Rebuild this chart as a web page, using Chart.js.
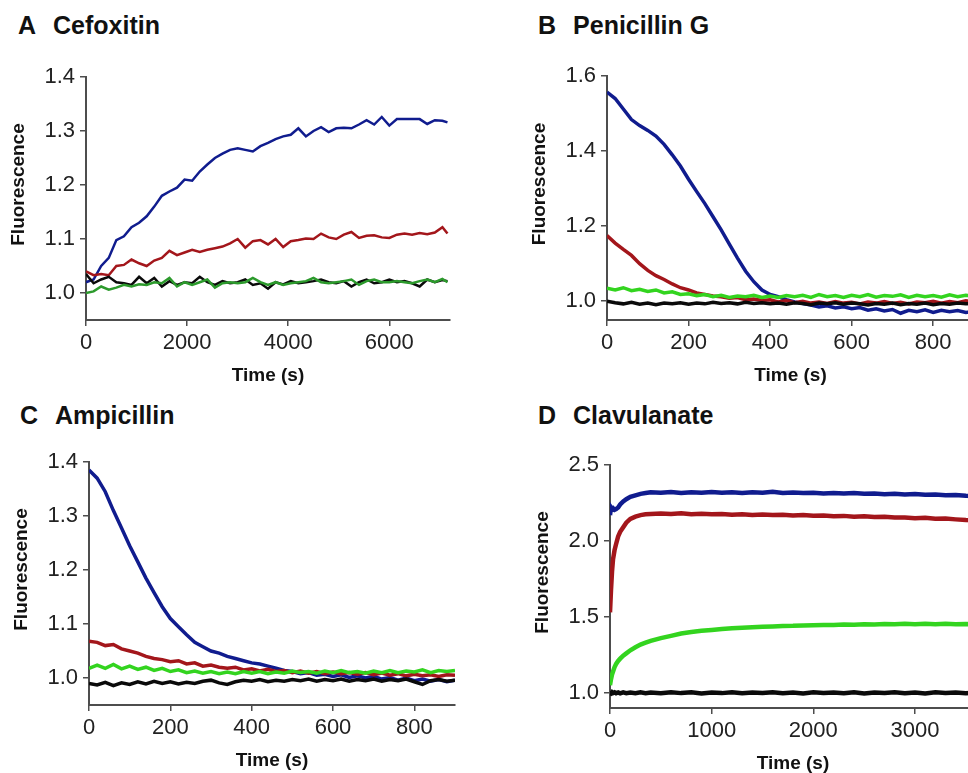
<!DOCTYPE html>
<html>
<head>
<meta charset="utf-8">
<script src="https://cdn.jsdelivr.net/npm/chart.js@4.4.1/dist/chart.umd.min.js"></script>
<style>
  html, body { margin: 0; padding: 0; background: #fff; }
  body { position: relative; width: 968px; height: 773px; overflow: hidden; font-family: "Liberation Sans", Arial, sans-serif; }
  .panel-title { position: absolute; font-weight: bold; font-size: 25px; line-height: 30px; color: #111; white-space: nowrap; }
  .panel-title span { margin-left: 17px; }
  canvas { position: absolute; }
</style>
</head>
<body>
<div class="panel-title" style="left:18px;top:10px">A<span>Cefoxitin</span></div>
<div class="panel-title" style="left:538px;top:10px">B<span>Penicillin G</span></div>
<div class="panel-title" style="left:20px;top:400px">C<span>Ampicillin</span></div>
<div class="panel-title" style="left:538px;top:400px">D<span>Clavulanate</span></div>
<canvas id="chartA"></canvas>
<canvas id="chartB"></canvas>
<canvas id="chartC"></canvas>
<canvas id="chartD"></canvas>
<script>
// ---- A: Cefoxitin ----
const timeA = [0, 150, 300, 450, 600, 750, 900, 1050, 1200, 1350, 1500, 1650, 1800, 1950, 2100, 2250,
  2400, 2550, 2700, 2850, 3000, 3150, 3300, 3450, 3600, 3750, 3900, 4050, 4200, 4350, 4500, 4650,
  4800, 4950, 5100, 5250, 5400, 5550, 5700, 5850, 6000, 6150, 6300, 6450, 6600, 6750, 6900, 7050, 7150];
const blueA = [1.020, 1.025, 1.050, 1.065, 1.098, 1.105, 1.122, 1.130, 1.142, 1.160, 1.180, 1.188, 1.195, 1.210, 1.208, 1.225,
  1.238, 1.250, 1.258, 1.265, 1.268, 1.265, 1.262, 1.272, 1.278, 1.285, 1.290, 1.293, 1.305, 1.290, 1.300, 1.307,
  1.298, 1.305, 1.306, 1.305, 1.312, 1.320, 1.312, 1.326, 1.310, 1.322, 1.322, 1.322, 1.322, 1.313, 1.320, 1.319, 1.316];
const redA = [1.040, 1.033, 1.035, 1.033, 1.050, 1.052, 1.062, 1.055, 1.050, 1.060, 1.065, 1.078, 1.070, 1.075, 1.080, 1.076,
  1.080, 1.083, 1.086, 1.092, 1.100, 1.084, 1.096, 1.098, 1.090, 1.100, 1.085, 1.096, 1.098, 1.101, 1.100, 1.110,
  1.103, 1.100, 1.108, 1.113, 1.102, 1.106, 1.107, 1.103, 1.102, 1.108, 1.110, 1.108, 1.111, 1.109, 1.112, 1.122, 1.110];
const blackA = [1.035, 1.018, 1.025, 1.030, 1.020, 1.018, 1.015, 1.030, 1.018, 1.028, 1.012, 1.022, 1.015, 1.020, 1.018, 1.030,
  1.020, 1.015, 1.022, 1.018, 1.020, 1.025, 1.015, 1.018, 1.008, 1.020, 1.016, 1.022, 1.018, 1.020, 1.022, 1.025,
  1.020, 1.018, 1.022, 1.012, 1.020, 1.025, 1.018, 1.020, 1.025, 1.020, 1.022, 1.018, 1.012, 1.025, 1.020, 1.024, 1.022];
const greenA = [1.000, 1.003, 1.012, 1.006, 1.010, 1.015, 1.012, 1.016, 1.015, 1.020, 1.018, 1.028, 1.012, 1.020, 1.015, 1.020,
  1.025, 1.010, 1.018, 1.020, 1.018, 1.020, 1.028, 1.020, 1.015, 1.020, 1.015, 1.018, 1.020, 1.022, 1.028, 1.020,
  1.018, 1.020, 1.022, 1.025, 1.015, 1.022, 1.025, 1.020, 1.020, 1.022, 1.020, 1.018, 1.022, 1.025, 1.020, 1.026, 1.020];
const xTicksA = [0, 2000, 4000, 6000];
const yTicksA = [1.0, 1.1, 1.2, 1.3, 1.4];

// ---- B: Penicillin G ----
const timeB = [0, 20, 40, 60, 80, 100, 120, 140, 160, 180, 200, 220, 240, 260, 280, 300, 320, 340, 360, 380, 400, 420, 440,
  460, 480, 500, 520, 540, 560, 580, 600, 620, 640, 660, 680, 700, 720, 740, 760, 780, 800, 820, 840, 860, 880, 900];
const blueB = [1.557, 1.540, 1.512, 1.484, 1.468, 1.455, 1.440, 1.418, 1.390, 1.360, 1.325, 1.292, 1.260, 1.225, 1.190, 1.152,
  1.115, 1.080, 1.052, 1.030, 1.018, 1.012, 1.004, 0.998, 0.994, 0.990, 0.985, 0.988, 0.982, 0.985, 0.980, 0.983,
  0.976, 0.980, 0.974, 0.978, 0.968, 0.976, 0.972, 0.977, 0.970, 0.976, 0.972, 0.975, 0.970, 0.973];
const redB = [1.175, 1.155, 1.138, 1.122, 1.100, 1.082, 1.068, 1.058, 1.046, 1.036, 1.030, 1.022, 1.018, 1.014, 1.012, 1.008,
  1.010, 1.004, 1.006, 1.002, 1.004, 0.998, 1.002, 0.996, 1.000, 0.995, 0.998, 0.994, 0.999, 0.995, 0.997, 0.993,
  0.998, 0.995, 0.999, 0.994, 0.997, 0.993, 0.998, 0.996, 1.000, 0.995, 0.999, 0.996, 1.001, 0.998];
const greenB = [1.035, 1.030, 1.036, 1.028, 1.032, 1.026, 1.030, 1.022, 1.025, 1.018, 1.020, 1.015, 1.018, 1.012, 1.016, 1.010,
  1.014, 1.012, 1.016, 1.010, 1.014, 1.010, 1.015, 1.012, 1.016, 1.010, 1.018, 1.012, 1.015, 1.010, 1.016, 1.012,
  1.018, 1.011, 1.015, 1.013, 1.017, 1.010, 1.016, 1.012, 1.015, 1.011, 1.017, 1.012, 1.016, 1.013];
const blackB = [1.000, 0.996, 0.993, 0.997, 0.992, 0.995, 0.991, 0.995, 0.993, 0.996, 0.992, 0.995, 0.993, 0.997, 0.994, 0.996,
  0.993, 0.997, 0.994, 0.996, 0.993, 0.995, 0.992, 0.996, 0.994, 0.991, 0.995, 0.993, 0.996, 0.992, 0.995, 0.993,
  0.990, 0.994, 0.992, 0.995, 0.991, 0.994, 0.992, 0.995, 0.991, 0.994, 0.992, 0.995, 0.993, 0.994];
const xTicksB = [0, 200, 400, 600, 800];
const yTicksB = [1.0, 1.2, 1.4, 1.6];

// ---- C: Ampicillin ----
const timeC = [0, 20, 40, 60, 80, 100, 120, 140, 160, 180, 200, 220, 240, 260, 280, 300, 320, 340, 360, 380, 400, 420, 440,
  460, 480, 500, 520, 540, 560, 580, 600, 620, 640, 660, 680, 700, 720, 740, 760, 780, 800, 820, 840, 860, 880, 900];
const blueC = [1.385, 1.370, 1.345, 1.310, 1.278, 1.245, 1.215, 1.185, 1.158, 1.132, 1.110, 1.095, 1.080, 1.066, 1.058, 1.050,
  1.046, 1.040, 1.036, 1.032, 1.028, 1.026, 1.022, 1.018, 1.014, 1.012, 1.008, 1.010, 1.005, 1.007, 1.003, 1.006,
  1.001, 1.004, 1.000, 1.003, 0.998, 1.001, 0.996, 1.000, 0.995, 0.998, 0.994, 0.997, 0.993, 0.996];
const redC = [1.068, 1.066, 1.060, 1.062, 1.054, 1.050, 1.046, 1.040, 1.036, 1.034, 1.030, 1.032, 1.026, 1.028, 1.022, 1.024,
  1.020, 1.018, 1.020, 1.015, 1.017, 1.013, 1.016, 1.012, 1.014, 1.010, 1.013, 1.009, 1.012, 1.008, 1.011, 1.008,
  1.010, 1.007, 1.010, 1.006, 1.009, 1.005, 1.008, 1.004, 1.007, 1.004, 1.006, 1.003, 1.006, 1.005];
const greenC = [1.018, 1.024, 1.018, 1.025, 1.017, 1.022, 1.016, 1.020, 1.014, 1.018, 1.012, 1.015, 1.010, 1.013, 1.009, 1.012,
  1.008, 1.011, 1.008, 1.012, 1.009, 1.012, 1.008, 1.011, 1.009, 1.013, 1.010, 1.012, 1.009, 1.013, 1.010, 1.014,
  1.010, 1.012, 1.009, 1.013, 1.010, 1.014, 1.010, 1.013, 1.011, 1.015, 1.010, 1.014, 1.012, 1.014];
const blackC = [0.990, 0.987, 0.992, 0.986, 0.991, 0.988, 0.993, 0.989, 0.994, 0.990, 0.993, 0.989, 0.992, 0.990, 0.994, 0.996,
  0.991, 0.988, 0.993, 0.996, 0.994, 0.997, 0.993, 0.996, 0.994, 0.997, 0.995, 0.998, 0.994, 0.997, 0.995, 0.998,
  0.994, 0.997, 0.995, 0.998, 0.994, 0.997, 0.995, 0.998, 0.993, 0.988, 0.995, 0.997, 0.994, 0.996];
const xTicksC = [0, 200, 400, 600, 800];
const yTicksC = [1.0, 1.1, 1.2, 1.3, 1.4];

// ---- D: Clavulanate ----
const timeD = [0, 10, 20, 30, 45, 60, 80, 100, 130, 160, 200, 250, 300, 350, 400,
  500, 600, 700, 800, 900, 1000, 1100, 1200, 1300, 1400, 1500, 1600, 1700, 1800, 1900, 2000,
  2100, 2200, 2300, 2400, 2500, 2600, 2700, 2800, 2900, 3000, 3100, 3200, 3300, 3400, 3500, 3600];
const blueD = [2.170, 2.220, 2.210, 2.215, 2.205, 2.210, 2.220, 2.240, 2.260, 2.275, 2.290, 2.300, 2.310, 2.315, 2.320,
  2.318, 2.322, 2.316, 2.320, 2.318, 2.322, 2.317, 2.320, 2.316, 2.321, 2.318, 2.324, 2.316, 2.319, 2.315, 2.318,
  2.313, 2.316, 2.312, 2.315, 2.310, 2.313, 2.308, 2.311, 2.306, 2.309, 2.304, 2.306, 2.301, 2.303, 2.298, 2.296];
const redD = [1.530, 1.680, 1.800, 1.880, 1.940, 1.980, 2.030, 2.060, 2.090, 2.120, 2.145, 2.160, 2.170, 2.175, 2.178,
  2.180, 2.178, 2.182, 2.176, 2.179, 2.175, 2.178, 2.173, 2.176, 2.171, 2.174, 2.170, 2.172, 2.168, 2.170, 2.166,
  2.168, 2.163, 2.165, 2.160, 2.162, 2.157, 2.159, 2.154, 2.155, 2.150, 2.152, 2.146, 2.147, 2.142, 2.138, 2.136];
const greenD = [1.050, 1.090, 1.120, 1.140, 1.170, 1.190, 1.210, 1.225, 1.245, 1.260, 1.280, 1.300, 1.318, 1.330, 1.342,
  1.360, 1.375, 1.390, 1.400, 1.408, 1.414, 1.420, 1.425, 1.428, 1.432, 1.435, 1.437, 1.440, 1.441, 1.444, 1.445,
  1.447, 1.446, 1.449, 1.448, 1.451, 1.450, 1.453, 1.451, 1.454, 1.452, 1.455, 1.452, 1.454, 1.451, 1.453, 1.452];
const blackD = [1.000, 0.996, 1.004, 0.998, 1.003, 0.997, 1.002, 0.996, 1.003, 0.998, 1.002, 0.997, 1.003, 0.998, 1.002,
  0.997, 1.004, 0.998, 1.003, 0.996, 1.002, 0.998, 1.004, 0.997, 1.002, 0.998, 1.003, 0.997, 1.002, 0.996, 1.003,
  0.998, 1.002, 0.997, 1.004, 0.996, 1.002, 0.998, 1.003, 0.997, 1.002, 0.996, 1.003, 0.998, 1.002, 0.997, 1.001];
const xTicksD = [0, 1000, 2000, 3000];
const yTicksD = [1.0, 1.5, 2.0, 2.5];

const FONT = '"Liberation Sans", Arial, sans-serif';
const BLUE = '#101c8e';
const RED = '#a3161b';
const GREEN_DARK = '#2c9a2c';
const GREEN = '#33d41f';
const BLACK = '#0a0a0a';
const AXIS = '#4d4d4d';

// fixed room around the plot area, so every panel lines up with the figure
const YAXIS_W = 86, PAD_TOP = 20, PAD_RIGHT = 20, XAXIS_H = 72;

// y title sits a bit above the middle of the axis in the figure
const yTitlePlugin = {
  id: 'yTitle',
  afterDraw(chart, args, opts) {
    const { ctx, chartArea } = chart;
    ctx.save();
    ctx.translate(chartArea.left - 67, (chartArea.top + chartArea.bottom) / 2 - 14);
    ctx.rotate(-Math.PI / 2);
    ctx.font = 'bold 19px ' + FONT;
    ctx.fillStyle = '#111';
    ctx.textAlign = 'center';
    ctx.textBaseline = 'middle';
    ctx.fillText(opts.text, 0, 0);
    ctx.restore();
  }
};

function series(times, values, color, width) {
  return {
    data: times.map((t, i) => ({ x: t, y: values[i] })),
    borderColor: color,
    borderWidth: width,
    pointRadius: 0,
    tension: 0,
    fill: false
  };
}

function renderPanel(id, box, xMax, yMin, yMax, xTicks, yTicks, datasets) {
  const canvas = document.getElementById(id);
  canvas.width = YAXIS_W + box.w + PAD_RIGHT;
  canvas.height = PAD_TOP + box.h + XAXIS_H;
  canvas.style.left = (box.left - YAXIS_W) + 'px';
  canvas.style.top = (box.top - PAD_TOP) + 'px';

  new Chart(canvas, {
    type: 'line',
    data: { datasets: datasets },
    options: {
      responsive: false,
      animation: false,
      devicePixelRatio: 1,
      layout: { padding: { top: PAD_TOP, right: PAD_RIGHT, left: 0, bottom: 0 } },
      plugins: {
        legend: { display: false },
        tooltip: { enabled: false },
        yTitle: { text: 'Fluorescence' }
      },
      scales: {
        x: {
          type: 'linear',
          min: 0,
          max: xMax,
          afterFit: s => { s.height = XAXIS_H; },
          afterBuildTicks: s => { s.ticks = xTicks.map(v => ({ value: v })); },
          grid: { drawOnChartArea: false, tickLength: 6, color: AXIS, lineWidth: 1.5 },
          border: { color: AXIS, width: 2 },
          ticks: {
            color: '#222',
            font: { family: FONT, size: 22 },
            padding: 4,
            maxRotation: 0,
            autoSkip: false,
            callback: v => String(v)
          },
          title: {
            display: true,
            text: 'Time (s)',
            color: '#111',
            font: { family: FONT, size: 19, weight: 'bold' },
            padding: { top: 0, bottom: 5 }
          }
        },
        y: {
          type: 'linear',
          min: yMin,
          max: yMax,
          afterFit: s => { s.width = YAXIS_W; },
          afterBuildTicks: s => { s.ticks = yTicks.map(v => ({ value: v })); },
          grid: { drawOnChartArea: false, tickLength: 6, color: AXIS, lineWidth: 1.5 },
          border: { color: AXIS, width: 2 },
          ticks: {
            color: '#222',
            font: { family: FONT, size: 22 },
            padding: 5,
            callback: v => v.toFixed(1)
          }
        }
      }
    },
    plugins: [yTitlePlugin]
  });
}

// first dataset is drawn on top
renderPanel('chartA', { left: 86, top: 77, w: 364, h: 243 }, 7200, 0.95, 1.4, xTicksA, yTicksA, [
  series(timeA, greenA, GREEN_DARK, 2.5),
  series(timeA, blackA, BLACK, 2.5),
  series(timeA, redA, RED, 2.5),
  series(timeA, blueA, BLUE, 2.5)
]);

renderPanel('chartB', { left: 607, top: 76, w: 367, h: 244 }, 900, 0.95, 1.6, xTicksB, yTicksB, [
  series(timeB, blackB, BLACK, 3.5),
  series(timeB, greenB, GREEN, 3.5),
  series(timeB, redB, RED, 3.5),
  series(timeB, blueB, BLUE, 3.5)
]);

renderPanel('chartC', { left: 89, top: 462, w: 366, h: 243 }, 900, 0.95, 1.4, xTicksC, yTicksC, [
  series(timeC, blackC, BLACK, 3.5),
  series(timeC, greenC, GREEN, 3.5),
  series(timeC, redC, RED, 3.5),
  series(timeC, blueC, BLUE, 3.5)
]);

renderPanel('chartD', { left: 610, top: 465, w: 366, h: 243 }, 3600, 0.9, 2.5, xTicksD, yTicksD, [
  series(timeD, blackD, BLACK, 4.5),
  series(timeD, greenD, GREEN, 4.5),
  series(timeD, redD, RED, 4.5),
  series(timeD, blueD, BLUE, 4.5)
]);
</script>
</body>
</html>
